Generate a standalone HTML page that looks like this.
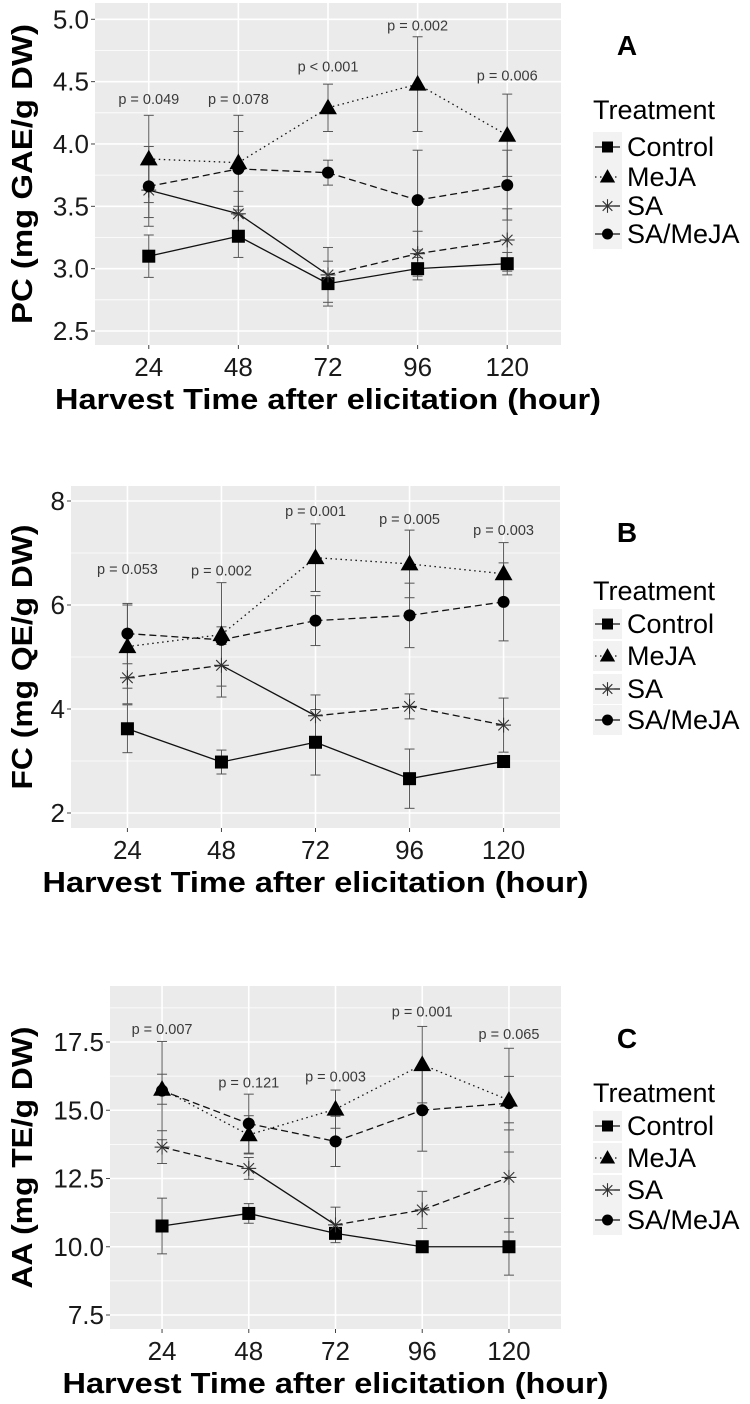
<!DOCTYPE html>
<html><head><meta charset="utf-8">
<style>
html,body{margin:0;padding:0;background:#fff;}
svg{display:block;font-family:"Liberation Sans",Arial,sans-serif;}
</style></head>
<body>
<svg id="fig" width="750" height="1404" viewBox="0 0 750 1404" xmlns="http://www.w3.org/2000/svg"></svg>
<script>
const hours = ['24','48','72','96','120'];
const seriesNames = ['Control','MeJA','SA','SA/MeJA'];

const pcControl = [3.10,3.26,2.88,3.00,3.04];
const pcControlErr = [0.17,0.17,0.18,0.09,0.09];
const pcMeJA = [3.88,3.85,4.29,4.48,4.07];
const pcMeJAErr = [0.35,0.38,0.19,0.38,0.33];
const pcSA = [3.63,3.44,2.95,3.12,3.23];
const pcSAErr = [0.22,0.18,0.22,0.18,0.25];
const pcSAMeJA = [3.66,3.80,3.77,3.55,3.67];
const pcSAMeJAErr = [0.32,0.30,0.10,0.40,0.28];
const pcPLabels = ['p = 0.049','p = 0.078','p < 0.001','p = 0.002','p = 0.006'];
const pcPValueY = [4.36,4.36,4.62,4.95,4.55];
const pcTicks = ['2.5','3.0','3.5','4.0','4.5','5.0'];

const fcControl = [3.62,2.98,3.36,2.66,2.99];
const fcControlErr = [0.46,0.23,0.63,0.57,0.05];
const fcMeJA = [5.20,5.43,6.91,6.79,6.60];
const fcMeJAErr = [0.80,0.15,0.65,0.65,0.60];
const fcSA = [4.60,4.84,3.87,4.05,3.69];
const fcSAErr = [0.50,0.40,0.40,0.24,0.52];
const fcSAMeJA = [5.45,5.33,5.70,5.80,6.06];
const fcSAMeJAErr = [0.58,1.10,0.48,0.62,0.75];
const fcPLabels = ['p = 0.053','p = 0.002','p = 0.001','p = 0.005','p = 0.003'];
const fcPValueY = [6.69,6.66,7.81,7.65,7.44];
const fcTicks = ['2','4','6','8'];

const aaControl = [10.76,11.22,10.49,10.00,10.00];
const aaControlErr = [1.02,0.36,0.20,0.08,1.04];
const aaMeJA = [15.77,14.10,15.04,16.67,15.37];
const aaMeJAErr = [0.55,0.70,0.70,1.40,1.90];
const aaSA = [13.65,12.87,10.80,11.35,12.54];
const aaSAErr = [0.60,0.40,0.65,0.68,2.00];
const aaSAMeJA = [15.72,14.51,13.86,15.00,15.26];
const aaSAMeJAErr = [1.80,1.08,0.92,1.50,0.98];
const aaPLabels = ['p = 0.007','p = 0.121','p = 0.003','p = 0.001','p = 0.065'];
const aaPValueY = [17.98,16.02,16.24,18.62,17.79];
const aaTicks = ['7.5','10.0','12.5','15.0','17.5'];

const NS = 'http://www.w3.org/2000/svg';
const svg = document.getElementById('fig');
function mk(tag, attrs, parent){
  const e = document.createElementNS(NS, tag);
  for (const k in attrs) e.setAttribute(k, attrs[k]);
  (parent||svg).appendChild(e);
  return e;
}

const DOT = '1.5,3.5', DASH = '7,4';
function drawMarker(g, kind, x, y, s){
  let m;
  if (kind === 0){ m = mk('rect',{x:x-s/2,y:y-s/2,width:s,height:s,fill:'#000'},g); }
  else if (kind === 1){ const h=s*1.1; m = mk('polygon',{points:`${x},${y-h*0.6} ${x-h*0.58},${y+h*0.42} ${x+h*0.58},${y+h*0.42}`,fill:'#000'},g); }
  else if (kind === 2){
    m = mk('g',{stroke:'#333','stroke-width':1.1},g);
    const r=s*0.62;
    for (let a=0;a<4;a++){ const t=a*Math.PI/4; mk('line',{x1:x-r*Math.cos(t),y1:y-r*Math.sin(t),x2:x+r*Math.cos(t),y2:y+r*Math.sin(t)},m); }
  }
  else { m = mk('circle',{cx:x,cy:y,r:s/2,fill:'#000'},g); }
  return m;
}
const markerSize = [13,14,12,12];

function panel(cfg){
  const g = mk('g',{});
  
  
  const {left,right,top,bottom} = cfg;
  const yScale = v => cfg.y1 + (v - cfg.v1) * (cfg.y2 - cfg.y1) / (cfg.v2 - cfg.v1);
  const bw = (right-left)/5.2;
  const xScale = i => left + (i+0.6)*bw;
  const bg = mk('rect',{x:left,y:top,width:right-left,height:bottom-top,fill:'#EBEBEB'},g);
  
  
  cfg.minor.forEach(v=>{ const y=yScale(v); if(y>top&&y<bottom) mk('line',{x1:left,x2:right,y1:y,y2:y,stroke:'#fff','stroke-width':0.8},g); });
  cfg.ticks.forEach(t=>{
    const y=yScale(parseFloat(t));
    mk('line',{x1:left,x2:right,y1:y,y2:y,stroke:'#fff','stroke-width':1.6},g);
    mk('line',{x1:left-4,x2:left,y1:y,y2:y,stroke:'#444','stroke-width':1},g);
    const tl = mk('text',{x:left-6,y:y+9,'text-anchor':'end','font-size':26,fill:'#1a1a1a'},g);
    tl.textContent=t;
    
    
  });
  hours.forEach((h,i)=>{
    const x=xScale(i);
    mk('line',{x1:x,x2:x,y1:top,y2:bottom,stroke:'#fff','stroke-width':1.6},g);
    mk('line',{x1:x,x2:x,y1:bottom,y2:bottom+4,stroke:'#444','stroke-width':1},g);
    const tl = mk('text',{x:x,y:bottom+31,'text-anchor':'middle','font-size':26,fill:'#1a1a1a'},g);
    tl.textContent=h;
    
    
  });
  cfg.series.forEach((s,si)=>{
    const eg = mk('g',{stroke:'#555','stroke-width':1},g);
    
    
    s.vals.forEach((v,i)=>{
      const x=xScale(i), y1=yScale(v+s.err[i]), y2=yScale(v-s.err[i]);
      mk('line',{x1:x,x2:x,y1:y1,y2:y2},eg);
      mk('line',{x1:x-5,x2:x+5,y1:y1,y2:y1},eg);
      mk('line',{x1:x-5,x2:x+5,y1:y2,y2:y2},eg);
    });
  });
  cfg.series.forEach((s,si)=>{
    const lg = mk('g',{fill:'none',stroke:'#111','stroke-width':1.3},g);
    
    
    for (let i=0;i<s.vals.length-1;i++){
      const d = s.dash[i];
      const a = {x1:xScale(i),y1:yScale(s.vals[i]),x2:xScale(i+1),y2:yScale(s.vals[i+1])};
      if (d) a['stroke-dasharray']=d;
      mk('line',a,lg);
    }
  });
  cfg.series.forEach((s,si)=>{
    s.vals.forEach((v,i)=>{
      const m = drawMarker(g, si, xScale(i), yScale(v), markerSize[si]);
      
      
    });
  });
  cfg.pLabels.forEach((p,i)=>{
    const t = mk('text',{x:xScale(i),y:yScale(cfg.pY[i])+5,'text-anchor':'middle','font-size':14.5,fill:'#3a3a3a'},g);
    t.textContent=p;
    
    
  });
  const xt = mk('text',{x:(left+right)/2,y:bottom+64,'text-anchor':'middle','font-size':29,'font-weight':'bold',fill:'#000',textLength:546,lengthAdjust:'spacingAndGlyphs'},g);
  xt.textContent='Harvest Time after elicitation (hour)';
  
  
  const cy=(top+bottom)/2;
  const yt = mk('text',{x:0,y:0,'text-anchor':'middle','font-size':29,'font-weight':'bold',fill:'#000',transform:`translate(32,${cy}) rotate(-90)`,textLength:cfg.ytLen,lengthAdjust:'spacingAndGlyphs'},g);
  yt.textContent=cfg.ytitle;
  
  
  const lt = mk('text',{x:627,y:cfg.letterY+10,'text-anchor':'middle','font-size':28,'font-weight':'bold',fill:'#000'},g);
  lt.textContent=cfg.letter;
  
  
  const lg = mk('g',{},g);
  
  
  const tt = mk('text',{x:593,y:cfg.legY[0]+9,'font-size':27,fill:'#000'},lg);
  tt.textContent='Treatment';
  
  
  const keyDash=[null,DOT,null,null];
  seriesNames.forEach((n,k)=>{
    const y=cfg.legY[k+1];
    const e = mk('g',{},lg);
    
    
    mk('rect',{x:593,y:y-15,width:29,height:30,fill:'#F2F2F2'},e);
    const la={x1:595,x2:620,y1:y,y2:y,stroke:'#111','stroke-width':1.3};
    if(keyDash[k]) la['stroke-dasharray']=keyDash[k];
    mk('line',la,e);
    drawMarker(e,k,607.5,y,k===1?12:11);
    const tx = mk('text',{x:627,y:y+9,'font-size':27,fill:'#000'},e);
    tx.textContent=n;
  });
}

const solid = [null,null,null,null];
panel({name:'chart-pc',left:95,right:561,top:3,bottom:345,v1:5.0,y1:19.3,v2:2.5,y2:331,
  ticks:pcTicks,minor:[2.25,2.75,3.25,3.75,4.25,4.75,5.25],
  series:[
    {vals:pcControl,err:pcControlErr,dash:solid},
    {vals:pcMeJA,err:pcMeJAErr,dash:[DOT,DOT,DOT,DOT]},
    {vals:pcSA,err:pcSAErr,dash:[null,null,DASH,DASH]},
    {vals:pcSAMeJA,err:pcSAMeJAErr,dash:[DASH,DASH,DASH,DASH]}],
  pLabels:pcPLabels,pY:pcPValueY,ytitle:'PC (mg GAE/g DW)',ytLen:300,letter:'A',letterY:45,
  legY:[110,147,177,206,234]});

panel({name:'chart-fc',left:71,right:560,top:486,bottom:828,v1:8,y1:501,v2:2,y2:813,
  ticks:fcTicks,minor:[3,5,7],
  series:[
    {vals:fcControl,err:fcControlErr,dash:solid},
    {vals:fcMeJA,err:fcMeJAErr,dash:[DOT,DOT,DOT,DOT]},
    {vals:fcSA,err:fcSAErr,dash:[DASH,null,DASH,DASH]},
    {vals:fcSAMeJA,err:fcSAMeJAErr,dash:[DASH,DASH,DASH,DASH]}],
  pLabels:fcPLabels,pY:fcPValueY,ytitle:'FC (mg QE/g DW)',ytLen:265,letter:'B',letterY:532,
  legY:[591,624,656,689,720]});

panel({name:'chart-aa',left:110,right:561,top:986,bottom:1329,v1:17.5,y1:1042,v2:7.5,y2:1315,
  ticks:aaTicks,minor:[8.75,11.25,13.75,16.25,18.75],
  series:[
    {vals:aaControl,err:aaControlErr,dash:solid},
    {vals:aaMeJA,err:aaMeJAErr,dash:[DOT,DOT,DOT,DOT]},
    {vals:aaSA,err:aaSAErr,dash:[DASH,null,DASH,DASH]},
    {vals:aaSAMeJA,err:aaSAMeJAErr,dash:[DASH,DASH,DASH,DASH]}],
  pLabels:aaPLabels,pY:aaPValueY,ytitle:'AA (mg TE/g DW)',ytLen:262,letter:'C',letterY:1038,
  legY:[1093,1126,1158,1190,1220]});
</script>
</body></html>
